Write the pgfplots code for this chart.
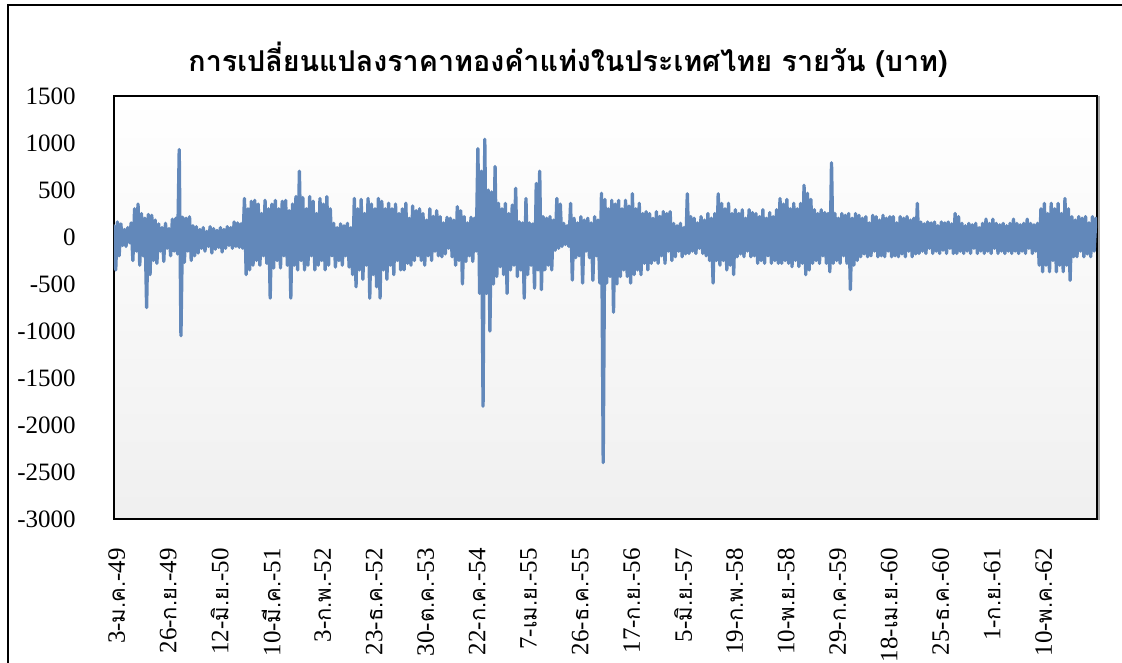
\documentclass[border=0pt]{standalone}
\usepackage{fontspec}
\setmainfont{Liberation Serif}
\newfontfamily\thaifont[Script=Thai,Scale=0.88]{Loma}
\newfontfamily\thaititle[Script=Thai]{Loma}
\usepackage{pgfplots}
\pgfplotsset{compat=1.18}
\usepackage{pgfplotstable}
\definecolor{serie}{RGB}{98,136,186}
\newcommand{\tf}[1]{{\thaifont #1}}

\pgfplotstableread[row sep=\\]{
y\\
120\\ -350\\ 160\\ -200\\ 140\\ -90\\ 80\\ -100\\ 100\\ -60\\
150\\ -250\\ 300\\ -150\\ 350\\ -300\\ 250\\ -200\\ 200\\ -750\\
240\\ -400\\ 230\\ -250\\ 180\\ -280\\ 140\\ -150\\ 100\\ -260\\
145\\ -120\\ 90\\ -200\\ 190\\ -150\\ 200\\ -180\\ 930\\ -1050\\
210\\ -270\\ 200\\ -150\\ 215\\ -250\\ 120\\ -200\\ 110\\ -170\\
80\\ -120\\ 100\\ -150\\ 60\\ -100\\ 110\\ -170\\ 90\\ -130\\
70\\ -110\\ 100\\ -160\\ 80\\ -120\\ 110\\ -90\\ 100\\ -120\\
160\\ -100\\ 150\\ -110\\ 140\\ -120\\ 410\\ -400\\ 300\\ -350\\
380\\ -300\\ 390\\ -250\\ 350\\ -300\\ 250\\ -200\\ 390\\ -280\\
300\\ -650\\ 350\\ -330\\ 390\\ -250\\ 300\\ -330\\ 380\\ -200\\
390\\ -300\\ 280\\ -650\\ 350\\ -300\\ 430\\ -350\\ 700\\ -250\\
420\\ -350\\ 300\\ -300\\ 430\\ -200\\ 380\\ -350\\ 250\\ -300\\
410\\ -250\\ 350\\ -350\\ 430\\ -300\\ 300\\ -200\\ 145\\ -320\\
100\\ -250\\ 140\\ -300\\ 120\\ -200\\ 145\\ -320\\ 100\\ -400\\
410\\ -530\\ 300\\ -350\\ 400\\ -450\\ 250\\ -300\\ 410\\ -650\\
350\\ -400\\ 300\\ -530\\ 410\\ -650\\ 380\\ -350\\ 300\\ -450\\
360\\ -300\\ 300\\ -400\\ 350\\ -250\\ 250\\ -350\\ 300\\ -350\\
360\\ -280\\ 200\\ -300\\ 330\\ -250\\ 280\\ -200\\ 300\\ -250\\
250\\ -300\\ 180\\ -200\\ 300\\ -250\\ 220\\ -150\\ 280\\ -200\\
217\\ -210\\ 150\\ -180\\ 210\\ -120\\ 200\\ -210\\ 180\\ -300\\
323\\ -250\\ 280\\ -500\\ 217\\ -260\\ 150\\ -200\\ 210\\ -260\\
200\\ -150\\ 940\\ -600\\ 700\\ -1800\\ 1040\\ -600\\ 500\\ -1000\\
480\\ -500\\ 750\\ -420\\ 358\\ -315\\ 300\\ -400\\ 358\\ -600\\
250\\ -350\\ 340\\ -300\\ 518\\ -420\\ 163\\ -350\\ 150\\ -650\\
410\\ -400\\ 150\\ -300\\ 140\\ -545\\ 570\\ -350\\ 700\\ -560\\
217\\ -350\\ 200\\ -300\\ 217\\ -350\\ 180\\ -140\\ 410\\ -120\\
350\\ -100\\ 145\\ -80\\ 120\\ -100\\ 358\\ -458\\ 200\\ -220\\
150\\ -200\\ 217\\ -490\\ 180\\ -150\\ 200\\ -220\\ 150\\ -460\\
217\\ -200\\ 180\\ -490\\ 465\\ -2400\\ 400\\ -490\\ 300\\ -420\\
390\\ -800\\ 350\\ -500\\ 390\\ -420\\ 300\\ -350\\ 390\\ -420\\
330\\ -490\\ 460\\ -400\\ 300\\ -350\\ 358\\ -400\\ 250\\ -280\\
270\\ -350\\ 250\\ -280\\ 200\\ -250\\ 270\\ -280\\ 220\\ -200\\
270\\ -280\\ 250\\ -150\\ 270\\ -250\\ 145\\ -210\\ 120\\ -150\\
145\\ -210\\ 100\\ -180\\ 460\\ -175\\ 217\\ -150\\ 200\\ -175\\
150\\ -120\\ 217\\ -175\\ 180\\ -200\\ 250\\ -250\\ 200\\ -490\\
250\\ -250\\ 460\\ -300\\ 358\\ -250\\ 300\\ -350\\ 358\\ -300\\
250\\ -400\\ 290\\ -210\\ 250\\ -180\\ 290\\ -210\\ 200\\ -150\\
290\\ -210\\ 260\\ -200\\ 250\\ -280\\ 217\\ -250\\ 290\\ -280\\
200\\ -200\\ 260\\ -280\\ 217\\ -250\\ 290\\ -280\\ 410\\ -280\\
350\\ -250\\ 400\\ -280\\ 300\\ -315\\ 358\\ -250\\ 300\\ -315\\
358\\ -280\\ 550\\ -400\\ 465\\ -350\\ 400\\ -280\\ 290\\ -250\\
250\\ -280\\ 290\\ -200\\ 260\\ -280\\ 250\\ -370\\ 790\\ -280\\
250\\ -250\\ 200\\ -280\\ 250\\ -200\\ 230\\ -280\\ 250\\ -560\\
200\\ -300\\ 250\\ -250\\ 230\\ -210\\ 200\\ -180\\ 217\\ -210\\
150\\ -200\\ 230\\ -150\\ 217\\ -210\\ 180\\ -200\\ 230\\ -210\\
200\\ -150\\ 217\\ -210\\ 217\\ -200\\ 150\\ -210\\ 217\\ -180\\
200\\ -210\\ 217\\ -150\\ 180\\ -210\\ 200\\ -180\\ 358\\ -175\\
160\\ -150\\ 140\\ -175\\ 160\\ -120\\ 150\\ -175\\ 160\\ -150\\
120\\ -175\\ 160\\ -140\\ 150\\ -175\\ 160\\ -120\\ 140\\ -175\\
250\\ -175\\ 217\\ -150\\ 145\\ -175\\ 120\\ -150\\ 145\\ -175\\
130\\ -120\\ 145\\ -175\\ 100\\ -150\\ 145\\ -175\\ 190\\ -150\\
145\\ -175\\ 190\\ -120\\ 145\\ -175\\ 130\\ -150\\ 145\\ -175\\
120\\ -150\\ 145\\ -175\\ 190\\ -150\\ 145\\ -175\\ 130\\ -150\\
145\\ -175\\ 190\\ -120\\ 145\\ -175\\ 130\\ -150\\ 145\\ -300\\
300\\ -370\\ 358\\ -300\\ 250\\ -370\\ 358\\ -250\\ 300\\ -370\\
358\\ -300\\ 250\\ -370\\ 410\\ -300\\ 300\\ -460\\ 217\\ -210\\
180\\ -210\\ 217\\ -150\\ 200\\ -210\\ 217\\ -180\\ 150\\ -210\\
217\\ -150\\ 200\\
}\gold

\begin{document}
\begin{tikzpicture}
\useasboundingbox (-85.5pt,-107.25pt) rectangle (756pt,389.25pt);
\clip (-85.5pt,-107.25pt) rectangle (756pt,389.25pt);
\draw[line width=1.1pt, black] (-79.5pt,-130pt) -- (-79.5pt,385.5pt) -- (800pt,385.5pt);
\draw[line width=1.1pt, black!35] (738.9pt,-1pt) -- (738.9pt,317.25pt);
\begin{axis}[
  at={(0,0)}, anchor=south west,
  scale only axis, width=737.25pt, height=317.25pt,
  xmin=0, xmax=3436, ymin=-3000, ymax=1500,
  ytick={-3000,-2500,-2000,-1500,-1000,-500,0,500,1000,1500},
  yticklabels={-3000,-2500,-2000,-1500,-1000,-500,0,500,1000,1500},
  xtick={0,180,...,3240},
  xticklabels={
    3-\tf{ม.ค.}-49, 26-\tf{ก.ย.}-49, 12-\tf{มิ.ย.}-50, 10-\tf{มี.ค.}-51,
    3-\tf{ก.พ.}-52, 23-\tf{ธ.ค.}-52, 30-\tf{ต.ค.}-53, 22-\tf{ก.ค.}-54,
    7-\tf{เม.ย.}-55, 26-\tf{ธ.ค.}-55, 17-\tf{ก.ย.}-56, 5-\tf{มิ.ย.}-57,
    19-\tf{ก.พ.}-58, 10-\tf{พ.ย.}-58, 29-\tf{ก.ค.}-59, 18-\tf{เม.ย.}-60,
    25-\tf{ธ.ค.}-60, 1-\tf{ก.ย.}-61, 10-\tf{พ.ค.}-62},
  major tick length=0pt,
  axis line style={line width=1.4pt, black},
  axis background/.style={top color=white, middle color=black!1, bottom color=black!6},
  ticklabel style={font=\fontsize{18.75}{20}\selectfont, inner sep=0pt},
  yticklabel style={anchor=east, xshift=-28.5pt},
  xticklabel style={yshift=-21.75pt, xshift=2pt, rotate=90, anchor=east},
  clip=true,
]
\addplot[serie, line width=2.5pt, line join=round, line cap=round, mark=none]
  table[x expr=\coordindex*6, y=y]{\gold};
\end{axis}
\node[font=\thaititle\bfseries\fontsize{21.5}{26}\selectfont] at (340.5pt,344.25pt)
  {การเปลี่ยนแปลงราคาทองคำแท่งในประเทศไทย รายวัน (บาท)};
\end{tikzpicture}
\end{document}
